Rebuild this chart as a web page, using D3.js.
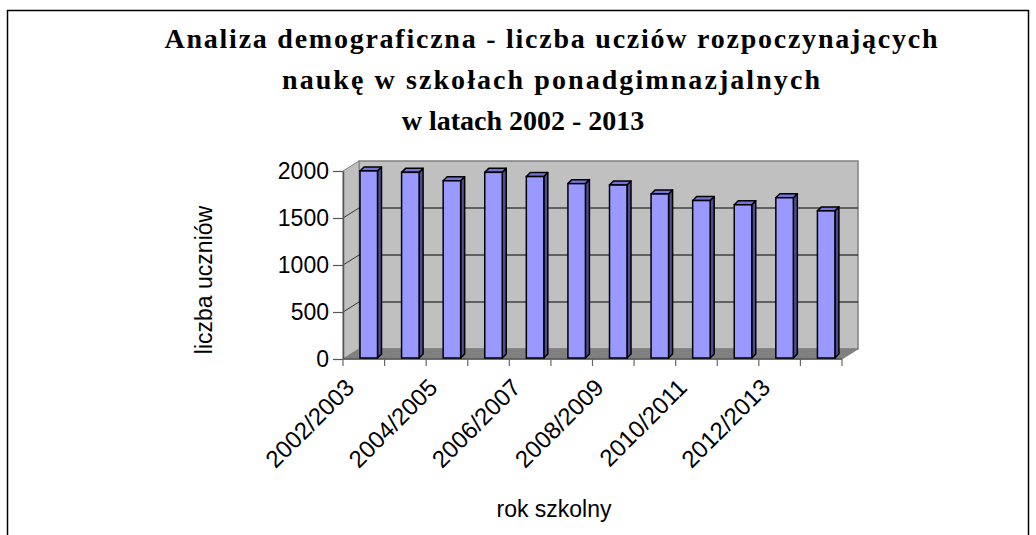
<!DOCTYPE html>
<html>
<head>
<meta charset="utf-8">
<script src="https://cdn.jsdelivr.net/npm/d3@7"></script>
<style>
  body { margin: 0; background: #fff; }
  svg { display: block; }
</style>
</head>
<body>
<div id="chart"></div>
<script>
// school years and number of pupils starting upper-secondary school
const years = ["2002/2003", "2003/2004", "2004/2005", "2005/2006", "2006/2007", "2007/2008",
  "2008/2009", "2009/2010", "2010/2011", "2011/2012", "2012/2013", "2013/2014"];
const pupils = [1990, 1975, 1885, 1975, 1930, 1855, 1840, 1745, 1675, 1630, 1705, 1565];
const yTicks = [0, 500, 1000, 1500, 2000];
const titleLines = ["Analiza demograficzna - liczba ucziów rozpoczynających",
  "naukę w szkołach ponadgimnazjalnych",
  "w latach 2002 - 2013"];

const W = 1036, H = 535;
const svg = d3.select("#chart").append("svg")
  .attr("width", W)
  .attr("height", H);

// outer chart frame
svg.append("rect")
  .attr("x", 7.5).attr("y", 10.5)
  .attr("width", 1021).attr("height", 600)
  .attr("fill", "none")
  .attr("stroke", "#000")
  .attr("stroke-width", 1.5);

// title (the first two lines are spread a bit wider, as in the original)
const titleX = [551, 551, 523];
const titleLen = [773, 538, null];
svg.append("g").selectAll("text")
  .data(titleLines)
  .enter().append("text")
    .attr("x", (d, i) => titleX[i])
    .attr("y", (d, i) => 48 + i * 41)
    .attr("text-anchor", "middle")
    .attr("font-family", "'Liberation Serif', 'Times New Roman', serif")
    .attr("font-weight", "bold")
    .attr("font-size", 28)
    .each(function (d, i) {
      if (titleLen[i]) d3.select(this).attr("textLength", titleLen[i]).attr("lengthAdjust", "spacing");
    })
    .text(d => d);

const x = d3.scaleBand().domain(years).range([343, 842]);
const y = d3.scaleLinear().domain([0, 2000]).range([359, 171]);
const dx = 16, dy = -10; // depth of the 3d box

const x0 = x.range()[0], x1 = x.range()[1];
const yTop = y(2000), yBot = y(0);
const poly = pts => pts.map(p => p.join(",")).join(" ");

// back wall
svg.append("polygon")
  .attr("points", poly([[x0 + dx, yTop + dy], [x1 + dx, yTop + dy], [x1 + dx, yBot + dy], [x0 + dx, yBot + dy]]))
  .attr("fill", "#c0c0c0")
  .attr("stroke", "#808080")
  .attr("stroke-width", 1.5);

// left wall
svg.append("polygon")
  .attr("points", poly([[x0, yBot], [x0, yTop], [x0 + dx, yTop + dy], [x0 + dx, yBot + dy]]))
  .attr("fill", "#c0c0c0")
  .attr("stroke", "#808080")
  .attr("stroke-width", 1);

// floor
svg.append("polygon")
  .attr("points", poly([[x0, yBot], [x1, yBot], [x1 + dx, yBot + dy], [x0 + dx, yBot + dy]]))
  .attr("fill", "#808080")
  .attr("stroke", "#808080")
  .attr("stroke-width", 1);

// gridlines on back wall and left wall
const grid = yTicks.filter(v => v > 0 && v < 2000);
svg.append("g").selectAll("line.back")
  .data(grid)
  .enter().append("line")
    .attr("x1", x0 + dx).attr("x2", x1 + dx)
    .attr("y1", d => y(d) + dy).attr("y2", d => y(d) + dy)
    .attr("stroke", "#000")
    .attr("stroke-width", 1);
svg.append("g").selectAll("line.side")
  .data(grid)
  .enter().append("line")
    .attr("x1", x0).attr("x2", x0 + dx)
    .attr("y1", d => y(d)).attr("y2", d => y(d) + dy)
    .attr("stroke", "#333")
    .attr("stroke-width", 1);

// y axis
const yAxis = svg.append("g")
  .attr("transform", `translate(${x0},0)`)
  .call(d3.axisLeft(y).tickValues(yTicks).tickFormat(d3.format("d"))
    .tickSize(10).tickPadding(4).tickSizeOuter(0));
yAxis.select(".domain").attr("stroke", "#555").attr("stroke-width", 1.5);
yAxis.selectAll(".tick line").attr("stroke", "#555").attr("stroke-width", 1.2);
yAxis.selectAll(".tick text")
  .attr("font-family", "'Liberation Sans', Arial, sans-serif")
  .attr("font-size", 23)
  .attr("fill", "#000");

// x axis line and ticks at category boundaries
svg.append("line")
  .attr("x1", x0).attr("x2", x1)
  .attr("y1", yBot).attr("y2", yBot)
  .attr("stroke", "#555")
  .attr("stroke-width", 1.5);
const bounds = years.map(d => x(d)).concat([x1]);
svg.append("g").selectAll("line")
  .data(bounds)
  .enter().append("line")
    .attr("x1", d => d).attr("x2", d => d)
    .attr("y1", yBot).attr("y2", yBot + 7)
    .attr("stroke", "#666")
    .attr("stroke-width", 1.2);

// x labels, every second year
svg.append("g").selectAll("text")
  .data(years.filter((d, i) => i % 2 === 0))
  .enter().append("text")
    .attr("transform", d => `translate(${x(d) + x.bandwidth() / 2 - 8},${389}) rotate(-45)`)
    .attr("text-anchor", "end")
    .attr("font-family", "'Liberation Sans', Arial, sans-serif")
    .attr("font-size", 24)
    .text(d => d);

// bars (3d columns)
const bw = 17.5, bo = 17, bd = 4;
const bars = svg.append("g").selectAll("g")
  .data(years.map((d, i) => ({ year: d, value: pupils[i] })))
  .enter().append("g");
bars.append("polygon")
  .attr("points", d => {
    const l = x(d.year) + bo, t = y(d.value) - 1, b = yBot - 1;
    return poly([[l + bw, t], [l + bw + bd, t - bd], [l + bw + bd, b - bd], [l + bw, b]]);
  })
  .attr("fill", "#4d4d8f")
  .attr("stroke", "#000")
  .attr("stroke-width", 1.5)
  .attr("stroke-linejoin", "round");
bars.append("polygon")
  .attr("points", d => {
    const l = x(d.year) + bo, t = y(d.value) - 1;
    return poly([[l, t], [l + bd, t - bd], [l + bw + bd, t - bd], [l + bw, t]]);
  })
  .attr("fill", "#7373d9")
  .attr("stroke", "#000")
  .attr("stroke-width", 1.5)
  .attr("stroke-linejoin", "round");
bars.append("rect")
  .attr("x", d => x(d.year) + bo)
  .attr("y", d => y(d.value) - 1)
  .attr("width", bw)
  .attr("height", d => y(0) - y(d.value))
  .attr("fill", "#9999ff")
  .attr("stroke", "#000")
  .attr("stroke-width", 1.5);

// axis titles
svg.append("text")
  .attr("transform", "translate(212,280) rotate(-90)")
  .attr("text-anchor", "middle")
  .attr("font-family", "'Liberation Sans', Arial, sans-serif")
  .attr("font-size", 23)
  .text("liczba uczniów");
svg.append("text")
  .attr("x", 554).attr("y", 517)
  .attr("text-anchor", "middle")
  .attr("font-family", "'Liberation Sans', Arial, sans-serif")
  .attr("font-size", 23)
  .text("rok szkolny");
</script>
</body>
</html>
